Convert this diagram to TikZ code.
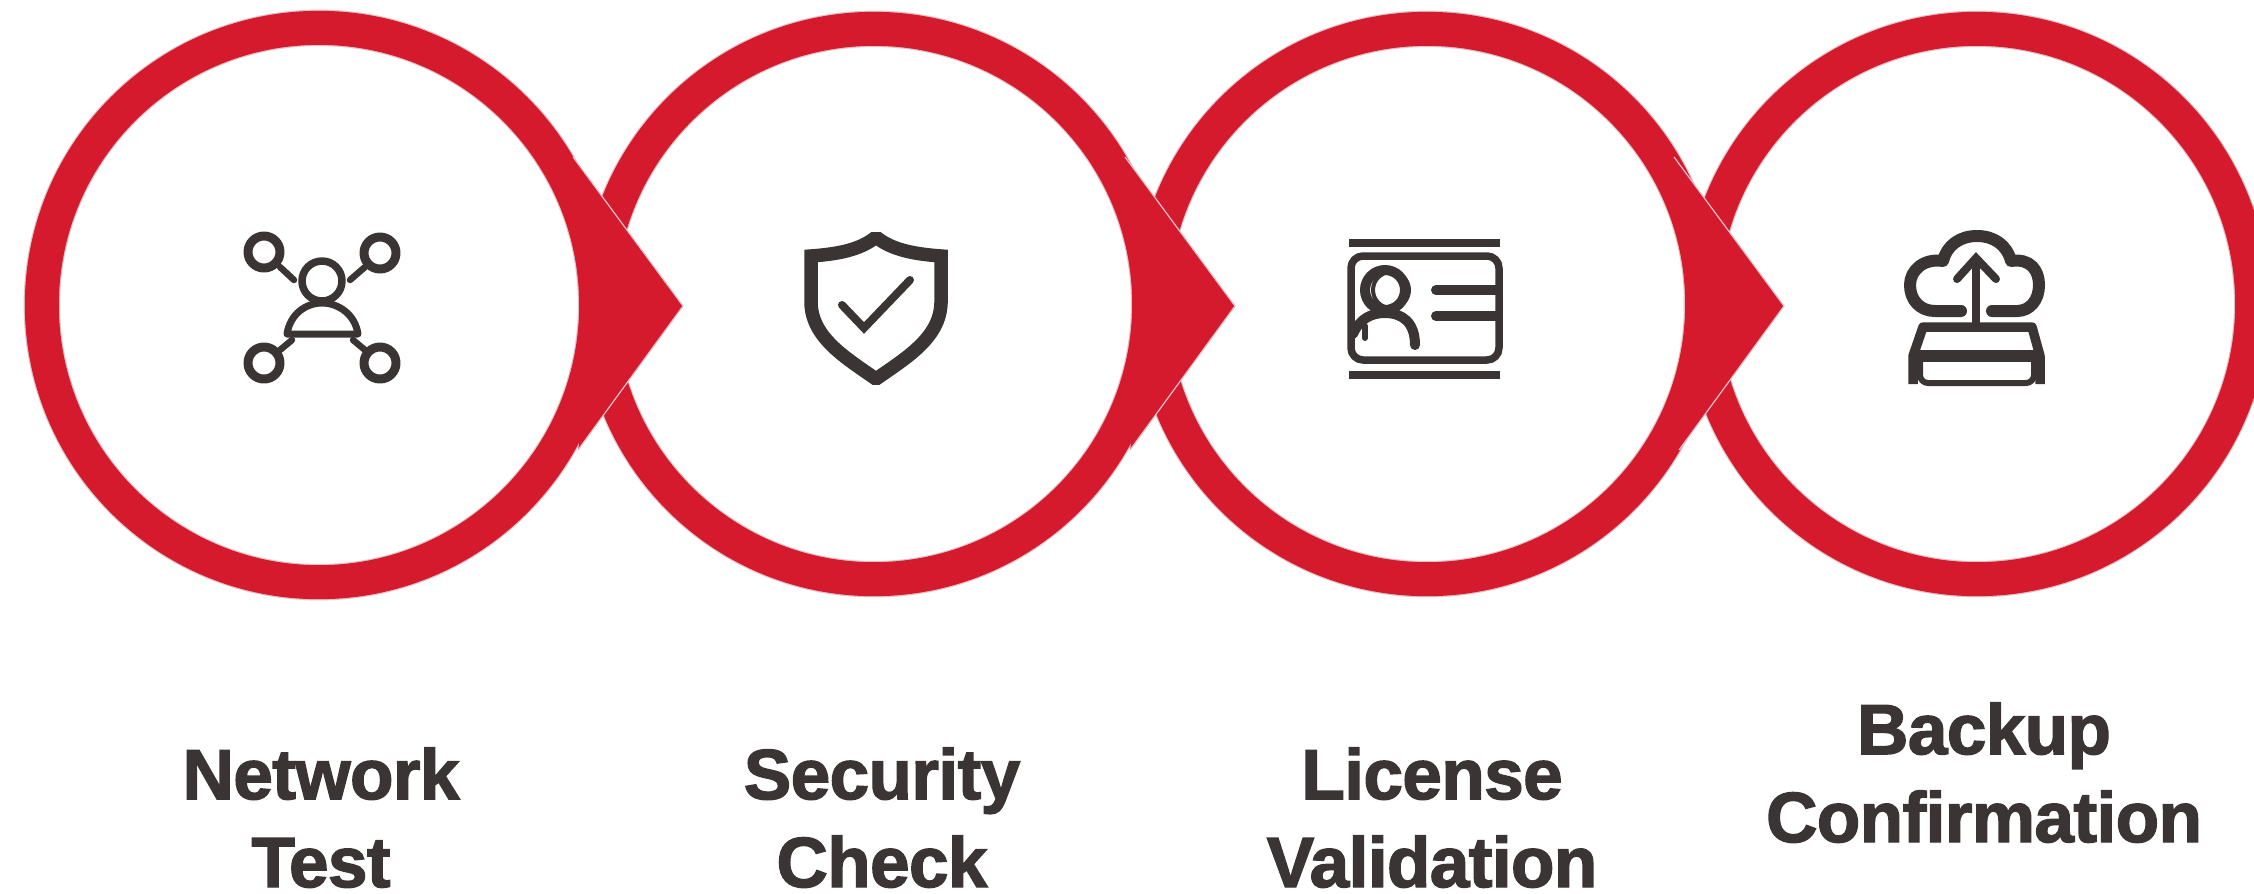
\documentclass[tikz,border=0pt]{standalone}
\usepackage{fontspec}
\setmainfont{Liberation Sans}[BoldFeatures={FakeBold=2,LetterSpace=-0.8}]
\definecolor{ringred}{HTML}{D61A2E}
\definecolor{ringedge}{HTML}{DFC3C8}
\definecolor{icondark}{HTML}{3A3435}
\tikzset{
  ringnode/.style={circle, draw=ringedge, line width=0.012cm, double=ringred, double distance=0.34cm, inner sep=0pt, outer sep=0pt, minimum size=#1},
  ringnode/.default=5.5cm,
  tipfill/.style={fill=ringred, draw=none},
  tipedge/.style={draw=ringedge, line width=0.012cm, line join=miter},
  steplabel/.style={align=center, anchor=base, inner sep=0pt, text=icondark, font=\fontsize{20.2}{25}\selectfont\bfseries},
  iconline/.style={draw=icondark, line cap=round, line join=round}
}
\begin{document}
\begin{tikzpicture}[x=0.01cm, y=-0.01cm]
\useasboundingbox (0,0) rectangle (2254,893);

% Drawing the four rings
\node [ringnode] (ringD) at (1977,304) {};
\node [ringnode] (ringC) at (1427,304) {};
\node [ringnode] (ringB) at (874,304) {};
\node [ringnode=5.54cm] (ringA) at (319,305) {};

% Drawing the arrow tips on the rings
\fill [tipfill] (573,157) -- (683,306) -- (578,450) -- (600,305) -- cycle;
\draw [tipedge] (573,157) -- (683,306) -- (578,450);
\fill [tipfill] (1125,157) -- (1235,306) -- (1130,450) -- (1152,305) -- cycle;
\draw [tipedge] (1125,157) -- (1235,306) -- (1130,450);
\fill [tipfill] (1674,157) -- (1784,306) -- (1679,450) -- (1701,305) -- cycle;
\draw [tipedge] (1674,157) -- (1784,306) -- (1679,450);

% Network icon
\draw [iconline, line width=0.09cm] (264,252) circle (16);
\draw [iconline, line width=0.09cm] (380,253) circle (16);
\draw [iconline, line width=0.09cm] (264,363) circle (16);
\draw [iconline, line width=0.09cm] (380,363) circle (16);
\draw [iconline, line width=0.075cm] (322,281) circle (20);
\draw [iconline, line width=0.07cm] (287,334) .. controls (290,314) and (306,303) .. (322,303) .. controls (338,303) and (355,314) .. (358,334) -- cycle;
\draw [iconline, line width=0.065cm] (280,267) -- (294,280);
\draw [iconline, line width=0.065cm] (365,267) -- (350,280);
\draw [iconline, line width=0.065cm] (280,350) -- (292,340);
\draw [iconline, line width=0.065cm] (365,350) -- (353,340);

% Shield icon
\begin{scope}
\clip (795,232) rectangle (955,384);
\draw [iconline, line width=0.135cm, line join=miter] (876,237) .. controls (860,250) and (838,254) .. (811,256) -- (811,303) .. controls (812,338) and (846,358) .. (876,379) .. controls (906,358) and (940,338) .. (941,303) -- (941,256) .. controls (914,254) and (892,250) .. cycle;
\end{scope}
\draw [iconline, line width=0.08cm, line join=miter] (842,305) -- (864,328) -- (910,280);

% Card icon
\fill [icondark] (1349,239) rectangle (1500,247);
\fill [icondark] (1349,371) rectangle (1500,379);
\draw [iconline, line width=0.075cm, rounded corners=0.12cm] (1351,256) rectangle (1499,360);
\draw [iconline, line width=0.1cm] (1385,290) circle (20);
\draw [iconline, line width=0.04cm] (1391,290) circle (18);
\draw [iconline, line width=0.1cm] (1353,334) .. controls (1360,318) and (1372,313) .. (1385,313) .. controls (1402,313) and (1415,322) .. (1415,345);
\draw [iconline, line width=0.06cm] (1365,326) -- (1365,338);
\draw [iconline, line width=0.1cm] (1436,290) -- (1497,290);
\draw [iconline, line width=0.1cm] (1436,316) -- (1497,316);

% Cloud and drive icon
\draw [iconline, line width=0.12cm] (1961,311) -- (1935,311) .. controls (1920,311) and (1910,300) .. (1910,285) .. controls (1910,270) and (1924,258) .. (1943,261) .. controls (1947,245) and (1960,236) .. (1977,236) .. controls (1994,236) and (2007,245) .. (2011,261) .. controls (2030,258) and (2039,270) .. (2039,285) .. controls (2039,300) and (2030,311) .. (2017,311) -- (1992,311);
\draw [iconline, line width=0.08cm] (1976,323) -- (1976,258);
\draw [iconline, line width=0.08cm, line join=miter] (1957,279) -- (1976,258) -- (1996,279);
\draw [iconline, line width=0.095cm, line cap=butt] (1913,384) -- (1913,356) -- (1923,327) -- (2032,327) -- (2040,356) -- (2040,384);
\draw [iconline, line width=0.12cm, line cap=butt] (1912,356) -- (2041,356);
\draw [iconline, line width=0.06cm, rounded corners=0.08cm] (1920,360) -- (1920,383) -- (2034,383) -- (2034,360);

% Marking the labels
\node [steplabel] (labelA) at (321,887) {Network\\Test};
\node [steplabel] (labelB) at (882,887) {Security\\Check};
\node [steplabel] (labelC) at (1432,887) {License\\Validation};
\node [steplabel] (labelD) at (1984,842) {Backup\\Confirmation};
\end{tikzpicture}
\end{document}
